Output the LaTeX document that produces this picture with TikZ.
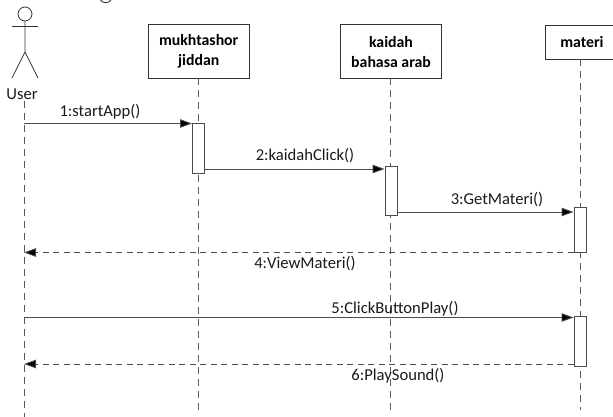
\documentclass[tikz,border=0pt]{standalone}
\usepackage{fontspec}
\setmainfont{Carlito}
\usetikzlibrary{arrows.meta}

\tikzset{
    objbox/.style={draw=black!80,fill=white,line width=0.9pt,minimum width=100.5,align=center,
        font=\fontsize{15.8}{20}\selectfont\bfseries},
    actbox/.style={draw=black!70,fill=white,line width=0.9pt,minimum width=12,inner sep=0},
    lifeline/.style={draw=black!65,line width=0.9pt,dash pattern=on 7pt off 5pt},
    call/.style={draw=black!70,line width=0.9pt,-{Triangle[length=12pt,width=8.5pt,fill=black]}},
    reply/.style={draw=black!70,line width=0.9pt,dash pattern=on 6pt off 4.5pt,-{Triangle[length=12pt,width=8.5pt,fill=black]}},
    msg/.style={font=\fontsize{16.6}{18}\selectfont,text=black!90,inner sep=0},
}

\begin{document}
\begin{tikzpicture}[x=1pt,y=-1pt]
\useasboundingbox (0,0) rectangle (613,417);

\node[draw=black!80,line width=0.8pt,circle,minimum size=14,inner sep=0] (head) at (25,14) {};
\coordinate (hip) at (25,52);
\coordinate (armL) at (12,26.5);
\coordinate (armR) at (38,26.5);
\coordinate (footL) at (12,78);
\coordinate (footR) at (38,78);
\draw[draw=black!80,line width=0.8pt] (head) -- (hip) (armL) -- (armR) (footL) -- (hip) -- (footR);
\node[font=\fontsize{16.6}{18}\selectfont,text=black!90,inner sep=0] (user) at (22,94) {User};

\node[objbox,minimum height=53.5] (mukhtashor) at (198.7,51.7) {mukhtashor\\jiddan};
\node[objbox,minimum height=53.5] (kaidah) at (391,51.7) {kaidah\\bahasa arab};
\node[objbox,minimum width=73,minimum height=34] (materi) at (582,42) {materi};

\coordinate (endU) at (24,417);
\coordinate (endM) at (198.5,410);
\coordinate (endK) at (390.7,410);
\coordinate (endT) at (580,410);
\draw[lifeline] (24,101) -- (endU);
\draw[lifeline] (198.5,78.5) -- (endM);
\draw[lifeline] (390.7,78.5) -- (endK);
\draw[lifeline] (580,59) -- (endT);

\foreach \n/\x/\ya/\yb in {a/198.5/123.5/173, b/391/166/215, c/580/207/252.5, d/580/316.5/366}
    \node[actbox,minimum height=\yb-\ya] (act\n) at (\x,{(\ya+\yb)/2}) {};

\draw[call] (24,123.5) -- (acta.west |- 0,123.5);
\draw[call] (acta.east |- 0,169) -- (actb.west |- 0,169);
\draw[call] (actb.east |- 0,212) -- (actc.west |- 0,212);
\draw[reply] (actc.west |- 0,252.5) -- (24,252.5);
\draw[call] (24,317.5) -- (actd.west |- 0,317.5);
\draw[reply] (actd.west |- 0,364) -- (24,364);

\foreach \x/\y/\n/\t in {100/112/1/startApp(), 305/156/2/kaidahClick(), 497/200/3/GetMateri(),
                         305/264/4/ViewMateri(), 395/309/5/ClickButtonPlay(), 398/376/6/PlaySound()}
    \node[msg] (label\n) at (\x,\y) {\n:\t};

\draw[black!80,line width=0.9pt] (100.5,0) .. controls (102,3.5) and (109,3.5) .. (111,0);
\end{tikzpicture}
\end{document}
